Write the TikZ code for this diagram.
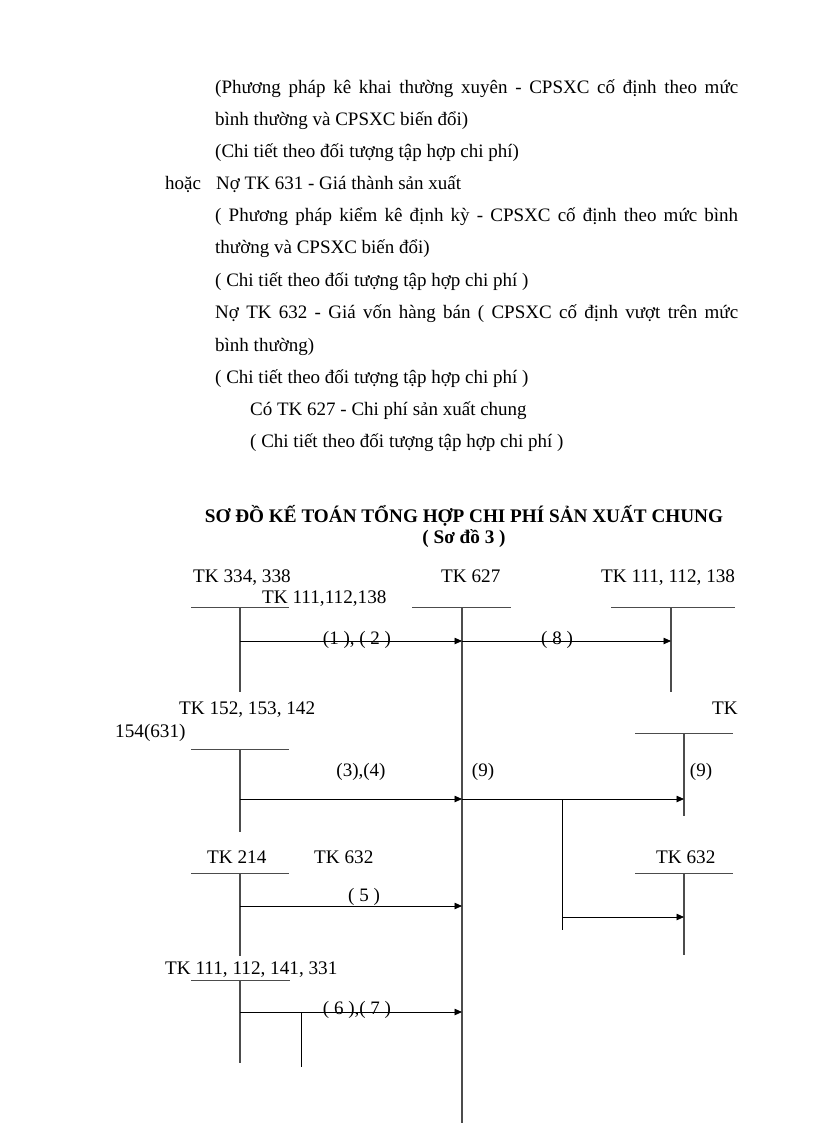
\documentclass[tikz,border=0pt]{standalone}
\usepackage{fontspec}
\setmainfont{Liberation Serif}
\usetikzlibrary{arrows.meta}
\begin{document}
\begin{tikzpicture}[x=1pt,y=-1pt,
 txt/.style={anchor=base west,inner sep=0pt,font=\fontsize{19}{19}\selectfont},
 lbl/.style={anchor=base west,inner sep=0pt,font=\fontsize{19.2}{19.2}\selectfont},
 clbl/.style={anchor=base,inner sep=0pt,font=\fontsize{19}{19}\selectfont},
 ttl/.style={anchor=base,inner sep=0pt,font=\bfseries\fontsize{19.2}{19.2}\selectfont},
 tline/.style={draw=black!70,line width=0.9pt},
 tvert/.style={draw=black!70,line width=1.6pt},
 flow/.style={draw=black,line width=0.8pt,-{Triangle[length=7.5pt,width=6.5pt]}},
 plain/.style={draw=black,line width=0.8pt}]
\useasboundingbox (0,0) rectangle (816,1123);
\fill[white] (0,0) rectangle (816,1123);
% ---- text above the diagram ----
\node[txt] (l1) at (215,94) {\makebox[523pt][s]{(Phương pháp kê khai thường xuyên - CPSXC cố định theo mức}};
\node[txt] (l2) at (215,126) {bình thường và CPSXC biến đổi)};
\node[txt] (l3) at (215,158) {(Chi tiết theo đối tượng tập hợp chi phí)};
\node[txt] (l4a) at (165,190) {hoặc};
\node[txt] (l4) at (216,190) {Nợ TK 631 - Giá thành sản xuất};
\node[txt] (l5) at (215,222) {\makebox[523pt][s]{( Phương pháp kiểm kê định kỳ - CPSXC cố định theo mức bình}};
\node[txt] (l6) at (215,254) {thường và CPSXC biến đổi)};
\node[txt] (l7) at (215,286) {( Chi tiết theo đối tượng tập hợp chi phí )};
\node[txt] (l8) at (215,318) {\makebox[523pt][s]{Nợ TK 632 - Giá vốn hàng bán ( CPSXC cố định vượt trên mức}};
\node[txt] (l9) at (215,351) {bình thường)};
\node[txt] (l10) at (215,383) {( Chi tiết theo đối tượng tập hợp chi phí )};
\node[txt] (l11) at (250,415) {Có TK 627 - Chi phí sản xuất chung};
\node[txt] (l12) at (250,447) {( Chi tiết theo đối tượng tập hợp chi phí )};
% ---- title ----
\node[ttl] (t1) at (464,522) {SƠ ĐỒ KẾ TOÁN TỔNG HỢP CHI PHÍ SẢN XUẤT CHUNG};
\node[ttl] (t2) at (464,543) {( Sơ đồ 3 )};
% ---- account labels ----
\node[lbl] (n334) at (193,582) {TK 334, 338};
\node[lbl] (n111a) at (262,603) {TK 111,112,138};
\node[lbl] (n627) at (441,582) {TK 627};
\node[lbl] (n111b) at (601,582) {TK 111, 112, 138};
\node[lbl] (n152) at (179,714) {TK 152, 153, 142};
\node[lbl] (n154) at (115,737) {154(631)};
\node[lbl] (ntk) at (712,714) {TK};
\node[lbl] (n214) at (207,863) {TK 214};
\node[lbl] (n632a) at (314,863) {TK 632};
\node[lbl] (n632b) at (656,863) {TK 632};
\node[lbl] (n111c) at (165,974) {TK 111, 112, 141, 331};
% ---- T accounts ----
\coordinate (a1l) at (191,607); \coordinate (a1r) at (289,607);
\coordinate (a1t) at (240,607); \coordinate (a1b) at (240,692);
\coordinate (bl) at (412,607); \coordinate (br) at (511,607);
\coordinate (bt) at (462,607); \coordinate (bb) at (462,1123);
\coordinate (cl) at (611,607); \coordinate (cr) at (735,607);
\coordinate (ct) at (671,607); \coordinate (cb) at (671,692);
\coordinate (a2l) at (191,749); \coordinate (a2r) at (289,749);
\coordinate (a2t) at (240,749); \coordinate (a2b) at (240,832);
\coordinate (dl) at (635,733); \coordinate (dr) at (733,733);
\coordinate (dt) at (684,733); \coordinate (db) at (684,816);
\coordinate (a3l) at (191,873); \coordinate (a3r) at (289,873);
\coordinate (a3t) at (240,873); \coordinate (a3b) at (240,956);
\coordinate (el) at (635,873); \coordinate (er) at (733,873);
\coordinate (et) at (684,873); \coordinate (eb) at (684,955);
\coordinate (a4l) at (191,980); \coordinate (a4r) at (290,980);
\coordinate (a4t) at (240,980); \coordinate (a4b) at (240,1063);
\foreach \k in {a1,b,c,a2,d,a3,e,a4}{
  \draw[tline] (\k l) -- (\k r);
  \draw[tvert] (\k t) -- (\k b);
}
% ---- flows ----
\coordinate (f1s) at (240,641); \coordinate (f1e) at (462,641);
\coordinate (f8e) at (671,641);
\draw[flow] (f1s) -- (f1e);
\draw[flow] (f1e) -- (f8e);
\node[clbl] (lab12) at (357,644) {(1 ), ( 2 )};
\node[clbl] (lab8) at (557,644) {( 8 )};

\coordinate (f3s) at (240,799); \coordinate (f3e) at (462,799);
\coordinate (f9e) at (684,799);
\draw[flow] (f3s) -- (f3e);
\draw[flow] (f3e) -- (f9e);
\node[clbl] (lab34) at (361,776) {(3),(4)};
\node[clbl] (lab9a) at (483,776) {(9)};
\node[clbl] (lab9b) at (701,776) {(9)};

\coordinate (brt) at (562,799); \coordinate (brb) at (562,930);
\coordinate (brm) at (562,917); \coordinate (bre) at (684,917);
\draw[plain] (brt) -- (brb);
\draw[flow] (brm) -- (bre);

\coordinate (f5s) at (240,906); \coordinate (f5e) at (462,906);
\draw[flow] (f5s) -- (f5e);
\node[clbl] (lab5) at (364,901) {( 5 )};

\coordinate (f6s) at (240,1012); \coordinate (f6e) at (462,1012);
\draw[flow] (f6s) -- (f6e);
\node[clbl] (lab67) at (357,1014) {( 6 ),( 7 )};
\coordinate (svt) at (301,1012); \coordinate (svb) at (301,1067);
\draw[plain] (svt) -- (svb);
\end{tikzpicture}
\end{document}
